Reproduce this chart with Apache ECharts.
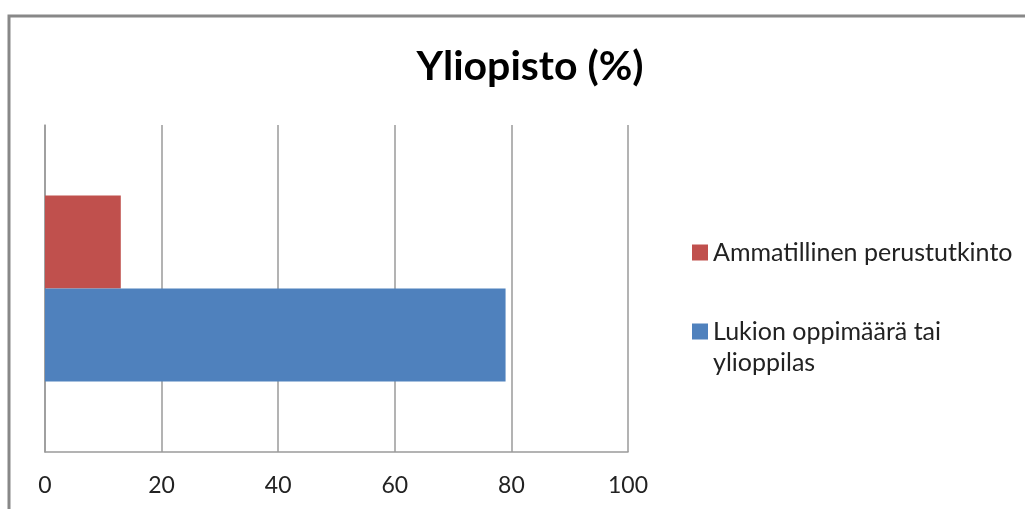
<!DOCTYPE html>
<html>
<head>
<meta charset="utf-8">
<script src="https://cdn.jsdelivr.net/npm/echarts@6/dist/echarts.min.js"></script>
<style>
  html, body { margin: 0; padding: 0; background: #fff; }
  #main { width: 1025px; height: 509px; }
</style>
</head>
<body>
<div id="main"></div>
<script>
// data
var categories = ['Yliopisto'];
var seriesNames = ['Ammatillinen perustutkinto', 'Lukion oppimäärä tai ylioppilas'];
var ammatillinen = [13];
var lukio = [79];
var xTicks = [0, 20, 40, 60, 80, 100];

var chart = echarts.init(document.getElementById('main'));
var font = 'Lato';
var legendText = { fontFamily: font, fontSize: 25, color: '#222', lineHeight: 31 };

chart.setOption({
  backgroundColor: '#fff',
  animation: false,
  title: {
    text: 'Yliopisto (%)',
    left: 525,
    textAlign: 'center',
    top: 41,
    textStyle: { fontFamily: font, fontSize: 41, fontWeight: 'bold', color: '#000' }
  },
  // outer chart frame (only top and left edges are in view)
  graphic: [{
    type: 'polyline',
    shape: { points: [[9, 509], [9, 16], [1025, 16]] },
    style: { stroke: '#888', lineWidth: 3, fill: null }
  }],
  legend: [{
    orient: 'vertical',
    left: 687,
    top: 232,
    icon: 'rect',
    itemWidth: 16,
    itemHeight: 16,
    data: [seriesNames[0]],
    textStyle: legendText
  }, {
    orient: 'vertical',
    left: 687,
    top: 280,
    icon: 'rect',
    itemWidth: 16,
    itemHeight: 16,
    data: [seriesNames[1]],
    // blank first line keeps the marker level with the first text line
    formatter: function () { return '\u00a0\nLukion oppimäärä tai\nylioppilas'; },
    textStyle: legendText
  }],
  grid: { left: 45, right: 397, top: 125, bottom: 57 },
  xAxis: {
    type: 'value',
    min: xTicks[0],
    max: xTicks[xTicks.length - 1],
    interval: 20,
    axisLine: { show: true, lineStyle: { color: '#9a9a9a', width: 1.5 } },
    axisTick: { show: false },
    splitLine: { show: true, lineStyle: { color: '#9a9a9a', width: 1.5 } },
    axisLabel: { margin: 22, fontFamily: font, fontSize: 23, color: '#222' }
  },
  yAxis: {
    type: 'category',
    data: categories,
    axisLine: { show: true, lineStyle: { color: '#9a9a9a', width: 1.5 } },
    axisTick: { show: false },
    axisLabel: { show: false }
  },
  series: [{
    name: seriesNames[0],
    type: 'bar',
    data: ammatillinen,
    barWidth: 93,
    barGap: '0%',
    itemStyle: { color: '#c0504d' }
  }, {
    name: seriesNames[1],
    type: 'bar',
    data: lukio,
    barWidth: 93,
    barGap: '0%',
    itemStyle: { color: '#4f81bd' }
  }]
});
</script>
</body>
</html>
